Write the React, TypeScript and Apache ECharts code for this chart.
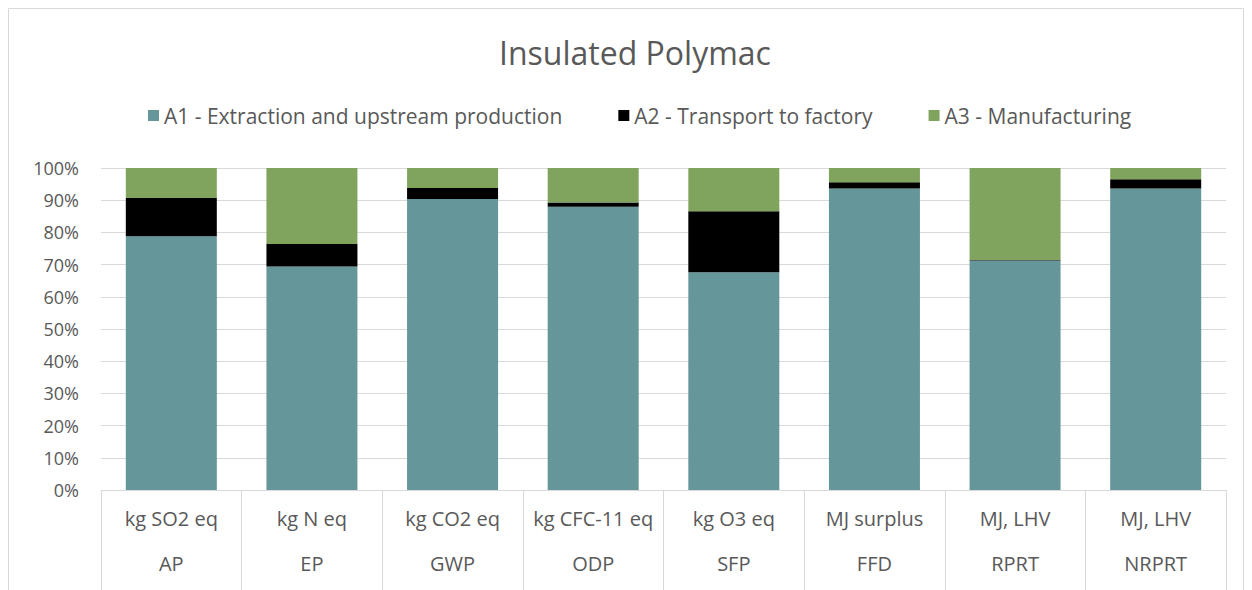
import React, { useEffect, useRef } from "react";
import * as echarts from "echarts";

const units = ["kg SO2 eq", "kg N eq", "kg CO2 eq", "kg CFC-11 eq", "kg O3 eq", "MJ surplus", "MJ, LHV", "MJ, LHV"];
const codes = ["AP", "EP", "GWP", "ODP", "SFP", "FFD", "RPRT", "NRPRT"];
const a1 = [78.8, 69.4, 90.4, 88.0, 67.6, 93.6, 71.3, 93.6];
const a2 = [11.9, 7.0, 3.4, 1.3, 19.0, 2.0, 0.1, 2.9];
const a3 = [9.3, 23.6, 6.2, 10.7, 13.4, 4.4, 28.6, 3.5];
const seriesNames = ["A1 - Extraction and upstream production", "A2 - Transport to factory", "A3 - Manufacturing"];
const colors = ["#64969a", "#000000", "#80a45e"];

const FONT = "Open Sans";
const GREY = "#595959";

export default function App() {
  const ref = useRef<HTMLDivElement>(null);
  useEffect(() => {
    const chart = echarts.init(ref.current!, null, { renderer: "svg" });
    const data = [a1, a2, a3];
    chart.setOption({
      animation: false,
      backgroundColor: "#ffffff",
      textStyle: { fontFamily: FONT },
      title: {
        text: "Insulated Polymac",
        left: 494,
        top: 31,
        textStyle: { fontFamily: FONT, fontSize: 32, fontWeight: "normal", color: GREY },
      },
      legend: {
        top: 100,
        left: 143,
        itemWidth: 11,
        itemHeight: 11,
        itemGap: 56,
        icon: "rect",
        textStyle: { fontFamily: FONT, fontSize: 21, color: GREY },
        data: seriesNames,
      },
      graphic: [
        {
          type: "rect",
          shape: { x: 8.5, y: 8.5, width: 1235, height: 600 },
          style: { fill: "none", stroke: "#d9d9d9", lineWidth: 1 },
          silent: true,
        },
      ],
      grid: { left: 101, right: 26, top: 168, bottom: 100, containLabel: false },
      xAxis: [
        {
          type: "category",
          data: units,
          position: "bottom",
          axisLine: { show: true, lineStyle: { color: "#d9d9d9" } },
          axisTick: { show: true, length: 100, interval: 0, lineStyle: { color: "#d9d9d9" } },
          axisLabel: { interval: 0, margin: 18, fontFamily: FONT, fontSize: 20, color: GREY },
        },
        {
          type: "category",
          data: codes,
          position: "bottom",
          offset: 45,
          axisLine: { show: false },
          axisTick: { show: false },
          axisLabel: { interval: 0, margin: 18, fontFamily: FONT, fontSize: 20, color: GREY },
        },
      ],
      yAxis: {
        type: "value",
        min: 0,
        max: 100,
        interval: 10,
        axisLine: { show: false },
        axisTick: { show: false },
        splitLine: { lineStyle: { color: "#d9d9d9", width: 1 } },
        axisLabel: { formatter: "{value}%", margin: 22, fontFamily: FONT, fontSize: 18, color: GREY },
      },
      series: seriesNames.map((name, i) => ({
        name,
        type: "bar",
        stack: "total",
        xAxisIndex: 0,
        barWidth: 91,
        itemStyle: { color: colors[i] },
        data: data[i],
      })),
    });
    return () => chart.dispose();
  }, []);
  return <div ref={ref} style={{ width: 1252, height: 590, marginLeft: -8, marginTop: -8 }} />;
}
